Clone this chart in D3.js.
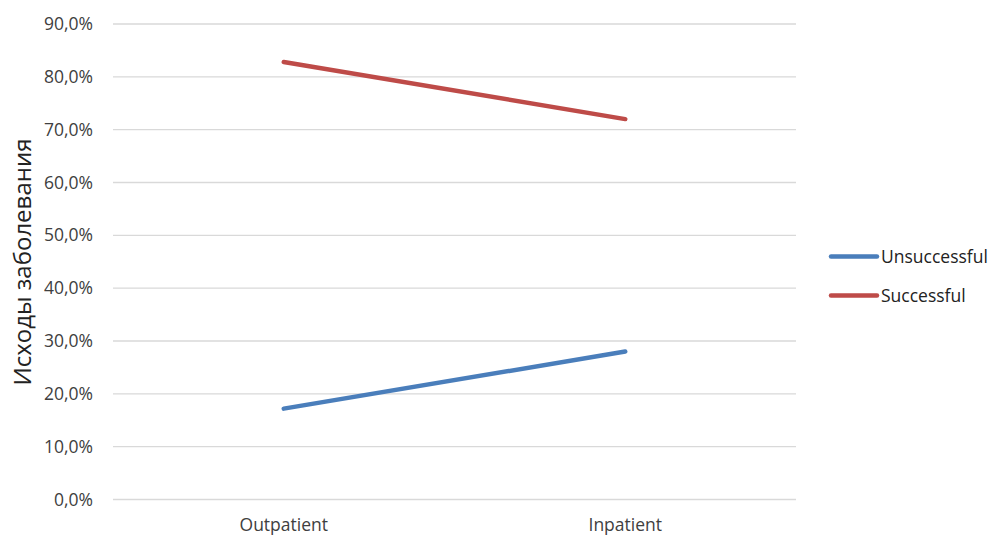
<!DOCTYPE html>
<html><head><meta charset="utf-8">
<script src="https://cdn.jsdelivr.net/npm/d3@7"></script>
<style>body{margin:0;background:#fff}svg{display:block}text{font-family:"Open Sans","Liberation Sans",sans-serif;fill:#404040}</style>
</head><body><svg id="c" width="990" height="536"></svg>
<script>
const categories = ["Outpatient", "Inpatient"];
const seriesNames = ["Unsuccessful", "Successful"];
const unsuccessful = [0.172, 0.280];
const successful = [0.828, 0.720];
const yTicks = [0, 0.1, 0.2, 0.3, 0.4, 0.5, 0.6, 0.7, 0.8, 0.9];
const colors = ["#4A7EBB", "#BE4B48"];
const yTitle = "Исходы заболевания";

(function () {
const series = [unsuccessful, successful];
const svg = d3.select("#c");
const mLeft = 113, mRight = 796, mTop = 24, mBottom = 499.5;
const x = d3.scaleBand().domain(categories).range([mLeft, mRight]);
const y = d3.scaleLinear().domain([0, 0.9]).range([mBottom, mTop]);
const fmt = v => (v * 100).toFixed(1).replace(".", ",") + "%";

svg.append("g").selectAll("line").data(yTicks).join("line")
  .attr("x1", mLeft).attr("x2", mRight)
  .attr("y1", d => y(d)).attr("y2", d => y(d))
  .attr("stroke", "#d9d9d9").attr("stroke-width", 1.3);

const yAxis = svg.append("g").attr("transform", `translate(${mLeft},0)`)
  .call(d3.axisLeft(y).tickValues(yTicks).tickFormat(fmt).tickSize(0).tickPadding(20));
yAxis.select(".domain").remove();
yAxis.selectAll("text").style("font-size", "17.5px").attr("fill", "#404040");

const xAxis = svg.append("g").attr("transform", `translate(0,${mBottom})`)
  .call(d3.axisBottom(x).tickSize(0).tickPadding(19));
xAxis.select(".domain").remove();
xAxis.selectAll("text").style("font-size", "17.5px").attr("fill", "#404040");

svg.append("text").attr("transform", `translate(31,262) rotate(-90)`)
  .attr("text-anchor", "middle").style("font-size", "24px").style("fill", "#222").text(yTitle);

const line = d3.line().x((d, i) => x(categories[i]) + x.bandwidth() / 2).y(d => y(d));
svg.append("g").selectAll("path").data(series).join("path")
  .attr("d", d => line(d)).attr("fill", "none")
  .attr("stroke", (d, i) => colors[i]).attr("stroke-width", 4.5).attr("stroke-linecap", "round");

const lg = svg.append("g").selectAll("g").data(seriesNames).join("g")
  .attr("transform", (d, i) => `translate(831,${256.5 + i * 39})`);
lg.append("line").attr("x1", 0).attr("x2", 46).attr("stroke", (d, i) => colors[i])
  .attr("stroke-width", 4.5).attr("stroke-linecap", "round");
lg.append("text").attr("x", 50).attr("dy", "0.35em").style("font-size", "17.5px").style("fill", "#222").text(d => d);
})();
</script></body></html>
